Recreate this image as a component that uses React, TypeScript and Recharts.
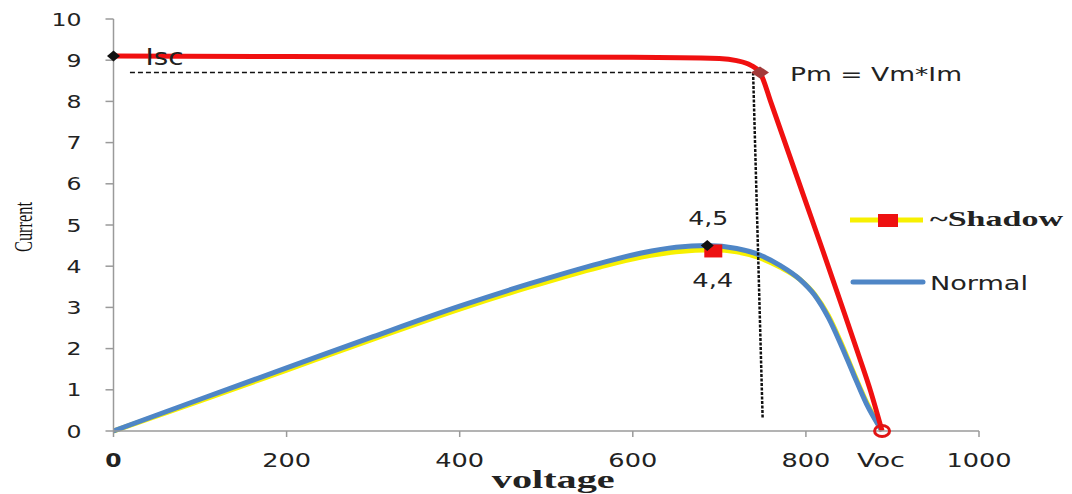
import React from 'react';
import { LineChart, Line, XAxis, YAxis, ReferenceLine, ReferenceDot, Legend } from 'recharts';

// I-V curves (voltage on x, current on y)
const iscVoltage = [0, 200, 400, 600, 700, 720, 736, 747, 760, 780, 800, 820, 840, 860, 875, 888];
const iscCurrent = [9.1, 9.09, 9.08, 9.07, 9.04, 8.99, 8.88, 8.7, 7.95, 6.75, 5.55, 4.35, 3.13, 1.9, 0.95, 0];

const normalVoltage = [0, 100, 200, 300, 400, 480, 562, 610, 650, 686, 720, 747, 770, 793, 810, 826, 840, 855, 870, 888];
const normalCurrent = [0, 0.77, 1.53, 2.29, 3.03, 3.57, 4.07, 4.32, 4.46, 4.5, 4.43, 4.27, 4.02, 3.68, 3.3, 2.75, 2.12, 1.38, 0.66, 0];

const shadowVoltage = [0, 100, 200, 300, 400, 480, 562, 610, 650, 693, 720, 747, 770, 793, 810, 826, 840, 855, 870, 888];
const shadowCurrent = [0, 0.73, 1.48, 2.23, 2.96, 3.49, 3.98, 4.22, 4.35, 4.4, 4.35, 4.2, 3.98, 3.68, 3.32, 2.8, 2.17, 1.42, 0.7, 0];

const voltageTicks = [0, 200, 400, 600, 800, 1000];
const currentTicks = [0, 1, 2, 3, 4, 5, 6, 7, 8, 9, 10];

// special points
const iscPoint = { v: 0, i: 9.1 };
const pmPoint = { v: 747, i: 8.7 };
const normalPeak = { v: 686, i: 4.5 };
const shadowPeak = { v: 693, i: 4.37 };
const vocPoint = { v: 888, i: 0 };
const pmGuideStart = 19;
const pmGuideFoot = { top: 739, bottom: 750, i: 0.32 };

const seriesNames = ['~Shadow', 'Normal'];

const zip = (xs: number[], ys: number[]) => xs.map((v, k) => ({ v, i: ys[k] }));
const iscData = zip(iscVoltage, iscCurrent);
const normalData = zip(normalVoltage, normalCurrent);
const shadowData = zip(shadowVoltage, shadowCurrent);

const sans = 'DejaVu Sans, Verdana, sans-serif';
const serif = 'Liberation Serif, Times New Roman, serif';
const textColor = '#222';

const XTick = (p: any) => {
  const s = String(p.payload.value);
  return (
    <text x={p.x} y={p.y + 23} textAnchor="middle" dominantBaseline="central" fontFamily={sans}
      fontSize={20} fill={textColor} fontWeight={s === '0' ? 700 : 400}
      textLength={s.length * 16.3} lengthAdjust="spacingAndGlyphs">{s}</text>
  );
};

const YTick = (p: any) => {
  const s = String(p.payload.value);
  return (
    <text x={p.x - 24} y={p.y} textAnchor="end" dominantBaseline="central" fontFamily={sans}
      fontSize={18.5} fill={textColor} textLength={s.length * 15} lengthAdjust="spacingAndGlyphs">{s}</text>
  );
};

const diamond = (cx: number, cy: number, w: number, h: number, fill: string) => (
  <path d={`M${cx - w},${cy} L${cx},${cy - h} L${cx + w},${cy} L${cx},${cy + h} Z`} fill={fill} />
);

const label = (x: number, y: number, s: string, len: number, size: number) => (
  <text x={x} y={y} dominantBaseline="central" fontFamily={sans} fontSize={size} fill={textColor}
    textLength={len} lengthAdjust="spacingAndGlyphs">{s}</text>
);

const LegendBox = () => (
  <svg width={240} height={110}>
    <line x1={10} x2={83} y1={25} y2={25} stroke="#f7f000" strokeWidth={5} />
    <rect x={38} y={19} width={20} height={13} fill="#ee1111" />
    <text x={90} y={24} dominantBaseline="central" fontFamily={serif} fontWeight={700} fontSize={21}
      fill={textColor} textLength={133} lengthAdjust="spacingAndGlyphs">{seriesNames[0]}</text>
    <line x1={13} x2={83} y1={87} y2={87} stroke="#4f86c6" strokeWidth={5} strokeLinecap="round" />
    <text x={90} y={88} dominantBaseline="central" fontFamily={sans} fontSize={20}
      fill={textColor} textLength={98} lengthAdjust="spacingAndGlyphs">{seriesNames[1]}</text>
  </svg>
);

export default function App() {
  return (
    <div style={{ position: 'absolute', left: 0, top: 0, background: '#fff' }}>
      <LineChart width={1072} height={494} margin={{ top: 19, right: 93, bottom: 23, left: 53.5 }}>
        <XAxis dataKey="v" type="number" domain={[0, 1000]} ticks={voltageTicks} allowDataOverflow
          axisLine={{ stroke: '#9a9a9a', strokeWidth: 1.5 }} tickLine={{ stroke: '#9a9a9a', strokeWidth: 1.5 }}
          tickSize={6} tickMargin={0} height={40} tick={<XTick />}
          label={{
            value: 'voltage',
            content: (p: any) => (
              <text x={p.viewBox.x + p.viewBox.width / 2 + 7} y={p.viewBox.y + 48} textAnchor="middle"
                dominantBaseline="central" fontFamily={serif} fontWeight={700} fontSize={25} fill={textColor}
                textLength={123} lengthAdjust="spacingAndGlyphs">voltage</text>
            ),
          }} />
        <YAxis dataKey="i" type="number" domain={[0, 10]} ticks={currentTicks} width={60}
          axisLine={{ stroke: '#9a9a9a', strokeWidth: 1.5 }} tickLine={{ stroke: '#9a9a9a', strokeWidth: 1.5 }}
          tickSize={8} tickMargin={0} tick={<YTick />}
          label={{
            value: 'Current',
            content: (p: any) => {
              const cx = p.viewBox.x - 30;
              const cy = p.viewBox.y + p.viewBox.height / 2 + 2;
              return (
                <text x={cx} y={cy} textAnchor="middle" dominantBaseline="central" fontFamily={serif}
                  fontSize={25} fill="#111" transform={`rotate(-90 ${cx} ${cy})`}
                  textLength={50} lengthAdjust="spacingAndGlyphs">Current</text>
              );
            },
          }} />
        <Line data={shadowData} dataKey="i" name={seriesNames[0]} type="monotone" stroke="#f7f000"
          strokeWidth={5} dot={false} isAnimationActive={false} />
        <Line data={normalData} dataKey="i" name={seriesNames[1]} type="monotone" stroke="#4f86c6"
          strokeWidth={5} dot={false} isAnimationActive={false} />
        <Line data={iscData} dataKey="i" name="Isc" legendType="none" type="monotone" stroke="#f01010"
          strokeWidth={5} dot={false} isAnimationActive={false} />
        <ReferenceLine segment={[{ x: pmGuideStart, y: pmPoint.i }, { x: pmPoint.v, y: pmPoint.i }]}
          stroke="#111" strokeWidth={1.5} strokeDasharray="5 3" />
        <ReferenceLine segment={[{ x: pmGuideFoot.top, y: pmPoint.i }, { x: pmGuideFoot.bottom, y: pmGuideFoot.i }]}
          stroke="#111" strokeWidth={2.5} strokeDasharray="3 1.5" />
        <ReferenceDot x={iscPoint.v} y={iscPoint.i} shape={(p: any) => (
          <g>
            {diamond(p.cx, p.cy, 6.5, 5.5, '#111')}
            {label(p.cx + 32, p.cy + 1, 'Isc', 38, 23)}
          </g>
        )} />
        <ReferenceDot x={pmPoint.v} y={pmPoint.i} shape={(p: any) => (
          <g>
            {diamond(p.cx, p.cy, 9, 6, '#a33a3a')}
            {label(p.cx + 30, p.cy + 1, 'Pm = Vm*Im', 172, 20)}
          </g>
        )} />
        <ReferenceDot x={shadowPeak.v} y={shadowPeak.i} shape={(p: any) => (
          <g>
            <rect x={p.cx - 9} y={p.cy - 6.5} width={18} height={13} fill="#ee1111" />
            {label(p.cx - 21, p.cy + 29, '4,4', 41, 19)}
          </g>
        )} />
        <ReferenceDot x={normalPeak.v} y={normalPeak.i} shape={(p: any) => (
          <g>
            {diamond(p.cx, p.cy, 6.5, 5.5, '#111')}
            {label(p.cx - 19, p.cy - 28, '4,5', 40, 19)}
          </g>
        )} />
        <ReferenceDot x={vocPoint.v} y={vocPoint.i} shape={(p: any) => (
          <g>
            <ellipse cx={p.cx} cy={p.cy} rx={7.5} ry={5.5} fill="none" stroke="#e01515" strokeWidth={3} />
            {label(p.cx - 25, p.cy + 29, 'Voc', 48, 20)}
          </g>
        )} />
        <Legend layout="vertical" align="center" verticalAlign="middle"
          wrapperStyle={{ left: 840, top: 195, width: 240, height: 110 }} content={() => <LegendBox />} />
      </LineChart>
    </div>
  );
}
